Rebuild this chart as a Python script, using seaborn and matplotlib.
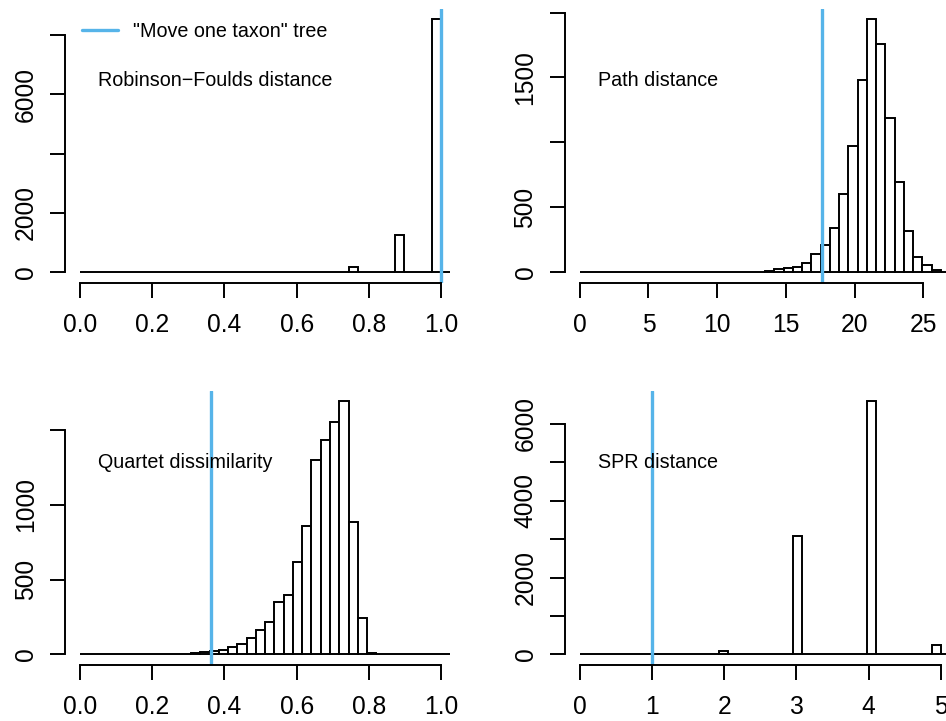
import numpy as np
import pandas as pd
import matplotlib
matplotlib.use("Agg")
import matplotlib.pyplot as plt
import seaborn as sns

# counts per bin: 40 equal bins from 0 to 40/39 of the largest distance
rf_top = 1.0 * 40 / 39
rf_counts = [0, 0, 0, 0, 0, 0, 0, 0, 0, 4,
             0, 0, 0, 0, 0, 0, 0, 0, 0, 6,
             0, 0, 0, 0, 10, 0, 0, 0, 0, 180,
             0, 0, 0, 0, 1271, 0, 0, 0, 8529, 0]

path_top = 26.29 * 40 / 39
path_counts = [0, 0, 0, 0, 0, 0, 0, 0, 0, 0,
               2, 0, 0, 0, 0, 3, 0, 2, 4, 6,
               13, 23, 36, 44, 69, 141, 210, 341, 600, 974,
               1477, 1949, 1761, 1190, 697, 318, 118, 56, 18, 5]

quartet_top = 1.0 * 40 / 39
quartet_counts = [0, 0, 0, 0, 1, 0, 0, 2, 0, 3,
                  3, 4, 8, 14, 22, 31, 49, 71, 109, 161,
                  216, 350, 395, 618, 859, 1298, 1432, 1553, 1693, 886,
                  243, 9, 0, 0, 0, 0, 0, 0, 0, 0]

spr_top = 5.0 * 40 / 39
spr_counts = [0, 0, 0, 0, 0, 0, 0, 0, 0, 0,
              0, 0, 0, 0, 0, 78, 0, 0, 0, 0,
              0, 0, 0, 3078, 0, 0, 0, 0, 0, 0,
              0, 6592, 0, 0, 0, 0, 0, 0, 252, 0]

# distance of the "move one taxon" tree
move_one = [1.0, 17.65, 0.363, 1.0]

names = ["Robinson\u2212Foulds distance", "Path distance",
         "Quartet dissimilarity", "SPR distance"]

x_ticks = [[0, 0.2, 0.4, 0.6, 0.8, 1.0], [0, 5, 10, 15, 20, 25],
           [0, 0.2, 0.4, 0.6, 0.8, 1.0], [0, 1, 2, 3, 4, 5]]
x_labels = [["0.0", "0.2", "0.4", "0.6", "0.8", "1.0"],
            ["0", "5", "10", "15", "20", "25"],
            ["0.0", "0.2", "0.4", "0.6", "0.8", "1.0"],
            ["0", "1", "2", "3", "4", "5"]]
y_ticks = [[0, 2000, 4000, 6000, 8000], [0, 500, 1000, 1500, 2000],
           [0, 500, 1000, 1500], [0, 1000, 2000, 3000, 4000, 5000, 6000]]
y_labels = [["0", "2000", "", "6000", ""], ["0", "500", "", "1500", ""],
            ["0", "500", "1000", ""], ["0", "", "2000", "", "4000", "", "6000"]]

BLUE = "#56B4E9"
LW = 1.4

sns.set_style("ticks")
plt.rcParams['font.family'] = ['Liberation Sans', 'DejaVu Sans']
plt.rcParams.update({"text.color": "black", "xtick.color": "black",
                     "ytick.color": "black", "axes.edgecolor": "black",
                     "xtick.labelcolor": "black", "ytick.labelcolor": "black"})

W, H = 946, 721
fig = plt.figure(figsize=(W / 100, H / 100), dpi=100)
# plot regions in pixels: left, top
regions = [(65.2, 9), (565, 9), (65.2, 391), (565, 391)]
pw, ph = 400, 273.5

tops = [rf_top, path_top, quartet_top, spr_top]
counts = [rf_counts, path_counts, quartet_counts, spr_counts]

for i in range(4):
    left, top = regions[i]
    ax = fig.add_axes([left / W, (H - top - ph) / H, pw / W, ph / H])
    edges = np.linspace(0, tops[i], len(counts[i]) + 1)
    df = pd.DataFrame({"mid": (edges[:-1] + edges[1:]) / 2,
                       "n": counts[i]})
    sns.histplot(data=df, x="mid", weights="n", bins=list(edges), ax=ax,
                 color="white", edgecolor="black", linewidth=LW, alpha=1)
    ymax = max(counts[i])
    ax.set_xlim(-0.04 * tops[i], 1.04 * tops[i])
    ax.set_ylim(-0.04 * ymax, 1.04 * ymax)
    ax.axvline(move_one[i], color=BLUE, lw=2.4, label='"Move one taxon" tree')

    ax.set_xticks(x_ticks[i])
    ax.set_xticklabels(x_labels[i])
    ax.set_yticks(y_ticks[i])
    ax.set_yticklabels(y_labels[i], rotation=90, va="center")
    ax.set_xlabel("")
    ax.set_ylabel("")
    ax.tick_params(direction="out", length=10.8, width=LW, labelsize=17.7,
                   color="black", labelcolor="black")
    ax.tick_params(axis="x", pad=10.8)
    ax.tick_params(axis="y", pad=9)
    for s in ["top", "right"]:
        ax.spines[s].set_visible(False)
    ax.spines["bottom"].set_linewidth(LW)
    ax.spines["left"].set_linewidth(LW)
    ax.spines["bottom"].set_bounds(x_ticks[i][0], x_ticks[i][-1])
    ax.spines["left"].set_bounds(y_ticks[i][0], y_ticks[i][-1])

    ax.text(0.082, 0.72, names[i], transform=ax.transAxes, color="black",
            fontsize=14.2, ha="left", va="baseline")
    if i == 0:
        ax.legend(loc="upper left", bbox_to_anchor=(0.041, 0.954),
                  frameon=False, fontsize=14.2, handlelength=1.86,
                  handletextpad=0.75, borderpad=0, borderaxespad=0,
                  labelcolor="black")

fig.savefig("out.png", dpi=100)
